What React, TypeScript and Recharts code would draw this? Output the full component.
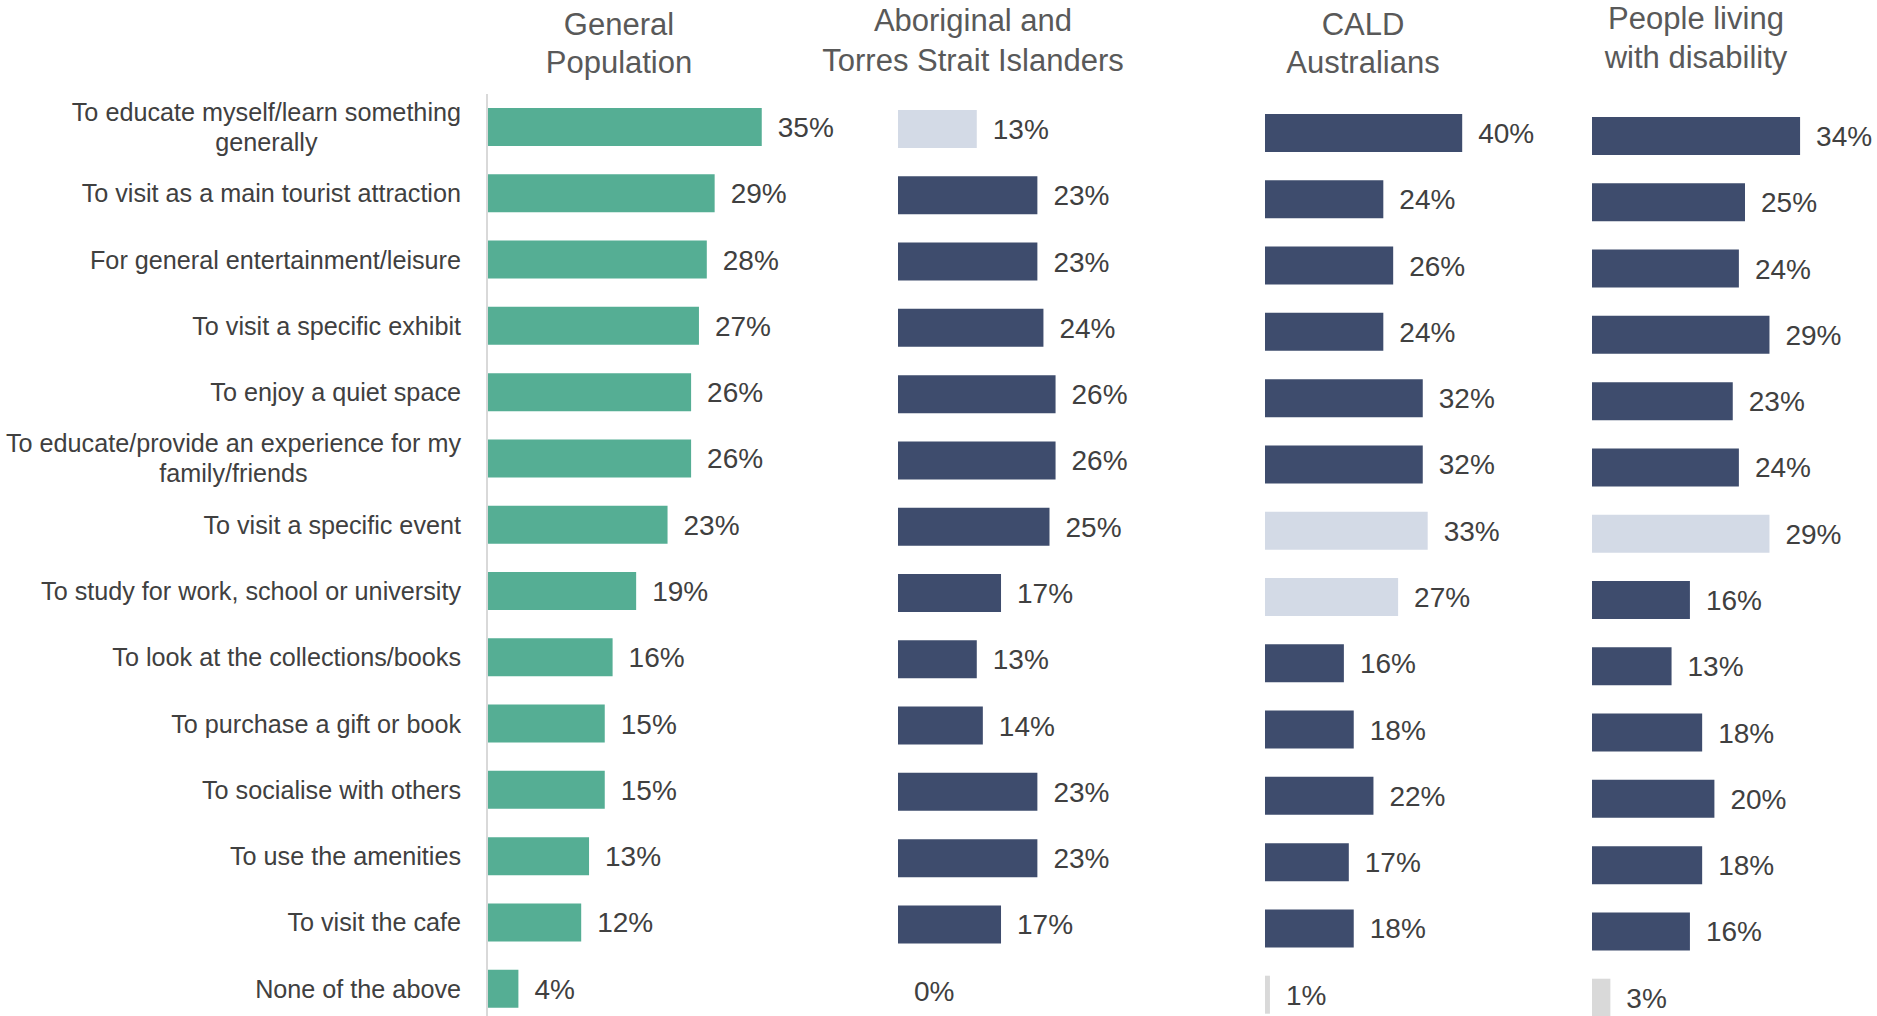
import React from "react";
import { BarChart, Bar, XAxis, YAxis, Cell, LabelList } from "recharts";

// reasons for visiting, one row per category ("\n" = line break in the tick label)
const categories = [
  "To educate myself/learn something\ngenerally",
  "To visit as a main tourist attraction",
  "For general entertainment/leisure",
  "To visit a specific exhibit",
  "To enjoy a quiet space",
  "To educate/provide an experience for my\nfamily/friends",
  "To visit a specific event",
  "To study for work, school or university",
  "To look at the collections/books",
  "To purchase a gift or book",
  "To socialise with others",
  "To use the amenities",
  "To visit the cafe",
  "None of the above",
];

const generalPopulation = [35, 29, 28, 27, 26, 26, 23, 19, 16, 15, 15, 13, 12, 4];
const aboriginal = [13, 23, 23, 24, 26, 26, 25, 17, 13, 14, 23, 23, 17, 0];
const cald = [40, 24, 26, 24, 32, 32, 33, 27, 16, 18, 22, 17, 18, 1];
const disability = [34, 25, 24, 29, 23, 24, 29, 16, 13, 18, 20, 18, 16, 3];

const titles = [
  ["General", "Population"],
  ["Aboriginal and", "Torres Strait Islanders"],
  ["CALD", "Australians"],
  ["People living", "with disability"],
];

const FONT = '"Liberation Sans", Arial, sans-serif';
const GREEN = "#55AE94";
const NAVY = "#3E4C6D";
const PALE = "#D3DAE6";
const GREY = "#D9D9D9";
const TEXT = "#404040";

const CHART_H = 1040;
const PLOT_H = 928;
const TICK_SIZE = 25.2;

let measureCtx: CanvasRenderingContext2D | null = null;
function textWidth(s: string, size: number) {
  if (!measureCtx) measureCtx = document.createElement("canvas").getContext("2d");
  if (!measureCtx) return s.length * size * 0.5;
  measureCtx.font = `${size}px ${FONT}`;
  return measureCtx.measureText(s).width;
}

const CategoryTick = (props: any) => {
  const { y, payload } = props;
  const lines: string[] = String(payload.value).split("\n");
  const right = 461;
  if (lines.length === 1) {
    return (
      <text x={right} y={y} dy="0.35em" textAnchor="end" fontSize={TICK_SIZE} fill={TEXT} fontFamily={FONT}>
        {lines[0]}
      </text>
    );
  }
  const w = Math.max(...lines.map((l) => textWidth(l, TICK_SIZE)));
  const cx = Math.max(right - w / 2, w / 2 + 2);
  const start = y - ((lines.length - 1) * 30) / 2;
  return (
    <text x={cx} textAnchor="middle" fontSize={TICK_SIZE} fill={TEXT} fontFamily={FONT}>
      {lines.map((l, i) => (
        <tspan key={i} x={cx} y={start + i * 30} dy="0.35em">
          {l}
        </tspan>
      ))}
    </text>
  );
};

type Panel = {
  values: number[];
  left: number;
  axisWidth: number;
  width: number;
  plotTop: number;
  pxPerPct: number;
  fill: (i: number) => string;
};

const panels: Panel[] = [
  { values: generalPopulation, left: 0, axisWidth: 487, width: 360, plotTop: 94, pxPerPct: 7.85, fill: () => GREEN },
  { values: aboriginal, left: 898, axisWidth: 0, width: 330, plotTop: 96, pxPerPct: 6.06, fill: (i) => (i === 0 ? PALE : NAVY) },
  {
    values: cald, left: 1265, axisWidth: 0, width: 320, plotTop: 100, pxPerPct: 4.93,
    fill: (i) => (i === 13 ? GREY : i === 6 || i === 7 ? PALE : NAVY),
  },
  {
    values: disability, left: 1592, axisWidth: 0, width: 285, plotTop: 103, pxPerPct: 6.12,
    fill: (i) => (i === 13 ? GREY : i === 6 ? PALE : NAVY),
  },
];

function PanelChart({ panel, showAxis }: { panel: Panel; showAxis: boolean }) {
  const data = categories.map((name, i) => ({ name, value: panel.values[i] }));
  return (
    <div style={{ position: "absolute", left: panel.left, top: 0 }}>
      <BarChart
        width={panel.axisWidth + panel.width}
        height={CHART_H}
        data={data}
        layout="vertical"
        margin={{ top: panel.plotTop, right: 0, bottom: CHART_H - panel.plotTop - PLOT_H, left: 0 }}
      >
        <XAxis type="number" hide domain={[0, panel.width / panel.pxPerPct]} />
        {showAxis ? (
          <YAxis
            type="category"
            dataKey="name"
            width={panel.axisWidth}
            interval={0}
            tickLine={false}
            axisLine={{ stroke: "#D9D9D9", strokeWidth: 2 }}
            tick={<CategoryTick />}
          />
        ) : (
          <YAxis type="category" dataKey="name" hide />
        )}
        <Bar dataKey="value" barSize={38} minPointSize={0.01} isAnimationActive={false}>
          {data.map((d, i) => (
            <Cell key={`cell-${i}`} fill={d.value === 0 ? "none" : panel.fill(i)} />
          ))}
          <LabelList
            dataKey="value"
            position="right"
            offset={16}
            formatter={(v: any) => `${v}%`}
            fill={TEXT}
            fontSize={28}
            fontFamily={FONT}
          />
        </Bar>
      </BarChart>
    </div>
  );
}

const titleLayout = [
  { cx: 619, y: [35, 73] },
  { cx: 973, y: [31, 71] },
  { cx: 1363, y: [35, 73] },
  { cx: 1696, y: [29, 68] },
];

export default function App() {
  return (
    <div
      style={{
        position: "absolute",
        left: 0,
        top: 0,
        width: 1877,
        height: 1016,
        overflow: "hidden",
        background: "#fff",
        fontFamily: FONT,
      }}
    >
      {panels.map((p, i) => (
        <PanelChart key={i} panel={p} showAxis={i === 0} />
      ))}
      <svg width={1877} height={110} style={{ position: "absolute", left: 0, top: 0 }}>
        {titles.map((t, i) =>
          t.map((line, j) => (
            <text
              key={`${i}-${j}`}
              x={titleLayout[i].cx}
              y={titleLayout[i].y[j]}
              textAnchor="middle"
              fontSize={31}
              fill="#595959"
              fontFamily={FONT}
            >
              {line}
            </text>
          ))
        )}
      </svg>
    </div>
  );
}
